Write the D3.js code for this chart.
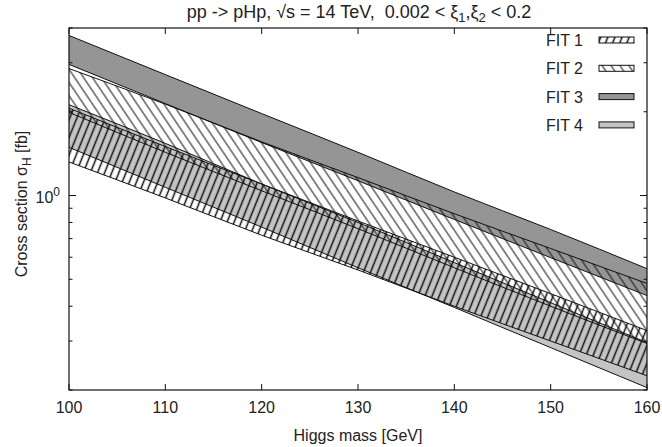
<!DOCTYPE html>
<html lang="en">
<head>
<meta charset="UTF-8">
<title>pp -> pHp cross section</title>
<script src="https://d3js.org/d3.v7.min.js"></script>
<style>
  body { margin: 0; background: #fff; }
  text { font-family: "Liberation Sans", Arial, sans-serif; fill: #222; }
</style>
</head>
<body>
<div id="chart"></div>
<script>
// Higgs mass points [GeV]
let masses = [100, 110, 120, 130, 140, 150, 160]

// upper / lower edge of each band, cross section in fb
let fit1Upper = [2.06, 1.50, 1.10, 0.81, 0.60, 0.444, 0.327]
let fit1Lower = [1.32, 0.98, 0.72, 0.54, 0.40, 0.30, 0.225]
let fit2Upper = [2.86, 2.13, 1.56, 1.16, 0.86, 0.645, 0.483]
let fit2Lower = [1.99, 1.43, 1.04, 0.76, 0.55, 0.40, 0.294]
let fit3Upper = [3.76, 2.72, 1.97, 1.43, 1.03, 0.755, 0.546]
let fit3Lower = [2.96, 2.14, 1.55, 1.13, 0.82, 0.598, 0.437]
let fit4Upper = [2.12, 1.54, 1.10, 0.80, 0.574, 0.412, 0.296]
let fit4Lower = [1.49, 1.07, 0.77, 0.55, 0.396, 0.284, 0.204]

let fitNames = ["FIT 1", "FIT 2", "FIT 3", "FIT 4"]
let xTicks = [100, 110, 120, 130, 140, 150, 160]
let yMinorTicks = [0.2, 0.3, 0.4, 0.5, 0.6, 0.7, 0.8, 0.9, 2, 3, 4]

let width = 662, height = 447
let margin = {top: 28, right: 15, bottom: 57, left: 69}

let svg = d3.select("#chart").append("svg")
    .attr("width", width)
    .attr("height", height)

let x = d3.scaleLinear().domain([100, 160]).range([margin.left, width - margin.right])
let y = d3.scaleLog().domain([0.2, 4]).range([height - margin.bottom, margin.top])

// hatch patterns
let defs = svg.append("defs")
defs.append("clipPath").attr("id", "plotClip")
  .append("rect")
    .attr("x", margin.left).attr("y", margin.top)
    .attr("width", x.range()[1] - x.range()[0])
    .attr("height", y.range()[0] - y.range()[1])

function hatch(id, angle, gap, sw) {
    let p = defs.append("pattern")
        .attr("id", id)
        .attr("patternUnits", "userSpaceOnUse")
        .attr("width", gap).attr("height", 20)
        .attr("patternTransform", "rotate(" + angle + ")")
    p.append("line")
        .attr("x1", gap / 2).attr("x2", gap / 2)
        .attr("y1", -2).attr("y2", 22)
        .attr("stroke", "#111").attr("stroke-width", sw)
}
hatch("hatch1", 22, 6.6, 1.5)
hatch("hatch2", -34, 7.4, 1.0)

let fills = ["url(#hatch1)", "url(#hatch2)", "#959595", "#c4c4c4"]

let bands = [
    {name: fitNames[0], up: fit1Upper, lo: fit1Lower, fill: fills[0]},
    {name: fitNames[1], up: fit2Upper, lo: fit2Lower, fill: fills[1]},
    {name: fitNames[2], up: fit3Upper, lo: fit3Lower, fill: fills[2]},
    {name: fitNames[3], up: fit4Upper, lo: fit4Lower, fill: fills[3]}
]
bands.forEach(b => {
    b.points = masses.map((m, i) => ({m: m, up: b.up[i], lo: b.lo[i]}))
})

let area = d3.area()
    .curve(d3.curveMonotoneX)
    .x(d => x(d.m))
    .y0(d => y(d.lo))
    .y1(d => y(d.up))

let lineUp = d3.line().curve(d3.curveMonotoneX).x(d => x(d.m)).y(d => y(d.up))
let lineLo = d3.line().curve(d3.curveMonotoneX).x(d => x(d.m)).y(d => y(d.lo))

let plot = svg.append("g").attr("clip-path", "url(#plotClip)")

// solid grey bands first, hatched bands on top
let drawOrder = [bands[3], bands[2], bands[0], bands[1]]
drawOrder.forEach(b => {
    plot.append("path")
        .attr("d", area(b.points))
        .attr("fill", b.fill)
})
drawOrder.forEach(b => {
    plot.append("path").attr("d", lineUp(b.points))
        .attr("fill", "none").attr("stroke", "#111").attr("stroke-width", 1)
    plot.append("path").attr("d", lineLo(b.points))
        .attr("fill", "none").attr("stroke", "#111").attr("stroke-width", 1)
})

// frame
let x0 = x.range()[0], x1 = x.range()[1]
let yb = y.range()[0], yt = y.range()[1]
svg.append("rect")
    .attr("x", x0).attr("y", yt)
    .attr("width", x1 - x0).attr("height", yb - yt)
    .attr("fill", "none").attr("stroke", "#111").attr("stroke-width", 1.2)

// ticks, inward on all four sides
let ticks = svg.append("g").attr("stroke", "#111").attr("stroke-width", 1)
xTicks.forEach(t => {
    ticks.append("line").attr("x1", x(t)).attr("x2", x(t)).attr("y1", yb).attr("y2", yb - 6)
    ticks.append("line").attr("x1", x(t)).attr("x2", x(t)).attr("y1", yt).attr("y2", yt + 6)
})
ticks.append("line").attr("x1", x0).attr("x2", x0 + 7).attr("y1", y(1)).attr("y2", y(1))
ticks.append("line").attr("x1", x1).attr("x2", x1 - 7).attr("y1", y(1)).attr("y2", y(1))
yMinorTicks.forEach(t => {
    ticks.append("line").attr("x1", x0).attr("x2", x0 + 3.5).attr("y1", y(t)).attr("y2", y(t))
    ticks.append("line").attr("x1", x1).attr("x2", x1 - 3.5).attr("y1", y(t)).attr("y2", y(t))
})

// tick labels
svg.append("g").selectAll("text")
    .data(xTicks)
    .enter()
    .append("text")
    .attr("x", d => x(d))
    .attr("y", yb + 23)
    .attr("text-anchor", "middle")
    .style("font-size", "16px")
    .text(d => d)

let ylab = svg.append("text")
    .attr("x", x0 - 9)
    .attr("y", y(1) + 7)
    .attr("text-anchor", "end")
    .style("font-size", "16px")
ylab.append("tspan").text("10")
ylab.append("tspan").attr("dy", -7).style("font-size", "12px").text("0")

// axis titles
svg.append("text")
    .attr("x", (x0 + x1) / 2)
    .attr("y", 441)
    .attr("text-anchor", "middle")
    .style("font-size", "16px")
    .text("Higgs mass [GeV]")

let yt2 = svg.append("text")
    .attr("transform", "translate(27," + ((yt + yb) / 2 - 5) + ") rotate(-90)")
    .attr("text-anchor", "middle")
    .style("font-size", "16px")
yt2.append("tspan").text("Cross section \u03C3")
yt2.append("tspan").attr("dy", 4).style("font-size", "12px").text("H")
yt2.append("tspan").attr("dy", -4).text(" [fb]")

// title
let title = svg.append("text")
    .attr("x", 359)
    .attr("y", 18)
    .attr("text-anchor", "middle")
    .style("font-size", "18px")
    .style("white-space", "pre")
title.append("tspan").text("pp -> pHp, \u221As = 14 TeV,  0.002 < \u03BE")
title.append("tspan").attr("dy", 4).style("font-size", "13px").text("1")
title.append("tspan").attr("dy", -4).text(",\u03BE")
title.append("tspan").attr("dy", 4).style("font-size", "13px").text("2")
title.append("tspan").attr("dy", -4).text(" < 0.2")

// legend
let legend = svg.append("g")
bands.forEach((b, i) => {
    let ly = 40 + i * 28.3
    legend.append("text")
        .attr("x", 583)
        .attr("y", ly + 6)
        .attr("text-anchor", "end")
        .style("font-size", "16px")
        .text(b.name)
    legend.append("rect")
        .attr("x", 599).attr("y", ly - 3)
        .attr("width", 35).attr("height", 6)
        .attr("fill", b.fill)
        .attr("stroke", "#111").attr("stroke-width", 1)
})
</script>
</body>
</html>
